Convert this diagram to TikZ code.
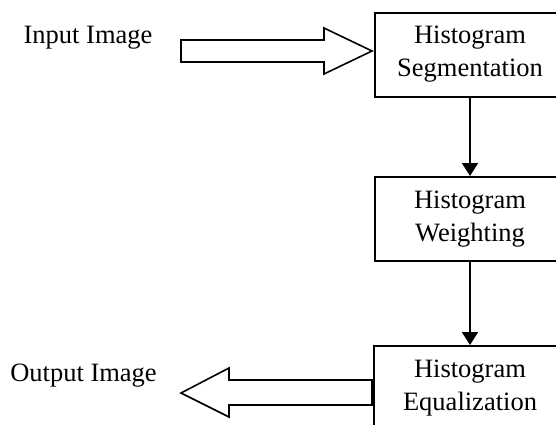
\documentclass[tikz,border=0pt]{standalone}
\usepackage{fontspec}
\setmainfont{Liberation Serif}
\usepackage{tikz}
\usetikzlibrary{calc,arrows.meta}

\tikzset{
	blockbox/.style={draw,line width=1pt,rectangle,
		minimum width=104pt,minimum height=42pt},
	boxtext/.style={align=center,font=\fontsize{13.25}{16.5}\selectfont},
	plaintext/.style={anchor=base,inner sep=0pt,
		font=\fontsize{13.25}{16.5}\selectfont},
	hollowarrow/.style={draw,line width=.8pt,line join=miter},
}

\begin{document}
\begin{tikzpicture}[x=.5pt,y=-.5pt,>={Triangle[length=6.5pt,width=8pt]}]
	
	\useasboundingbox (0,0) rectangle (556,424);
	
	% boxes run past the right edge of the picture
	\node[blockbox,anchor=west] (seg) at (374,54.5) {};
	\node[blockbox,anchor=west] (wgt) at (374,219) {};
	\node[blockbox,anchor=west] (equ) at (373,388) {};
	
	\node[boxtext] (segtext) at (470,54.5) {Histogram\\Segmentation};
	\node[boxtext] (wgttext) at (470,219) {Histogram\\Weighting};
	\node[boxtext] (equtext) at (470,388) {Histogram\\Equalization};
	
	\node[plaintext] (input) at (88,43) {Input Image};
	\node[plaintext] (output) at (83.5,381) {Output Image};
	
	\coordinate (intip) at (372,51);   % tip of input arrow
	\coordinate (outtip) at (181,393); % tip of output arrow
	
	\draw[->,line width=1pt] (seg.south-|segtext) -- (wgt.north-|wgttext);
	\draw[->,line width=1pt] (wgt.south-|wgttext) -- (equ.north-|equtext);
	
	\path[hollowarrow] (intip) -- ++(-48,-23) -- ++(0,12) -- ++(-143,0)
		-- ++(0,22) -- ++(143,0) -- ++(0,12) -- cycle;
	\path[hollowarrow] (outtip) -- ++(48,-25) -- ++(0,12) -- ++(143,0)
		-- ++(0,25) -- ++(-143,0) -- ++(0,12) -- cycle;
	
\end{tikzpicture}
\end{document}
